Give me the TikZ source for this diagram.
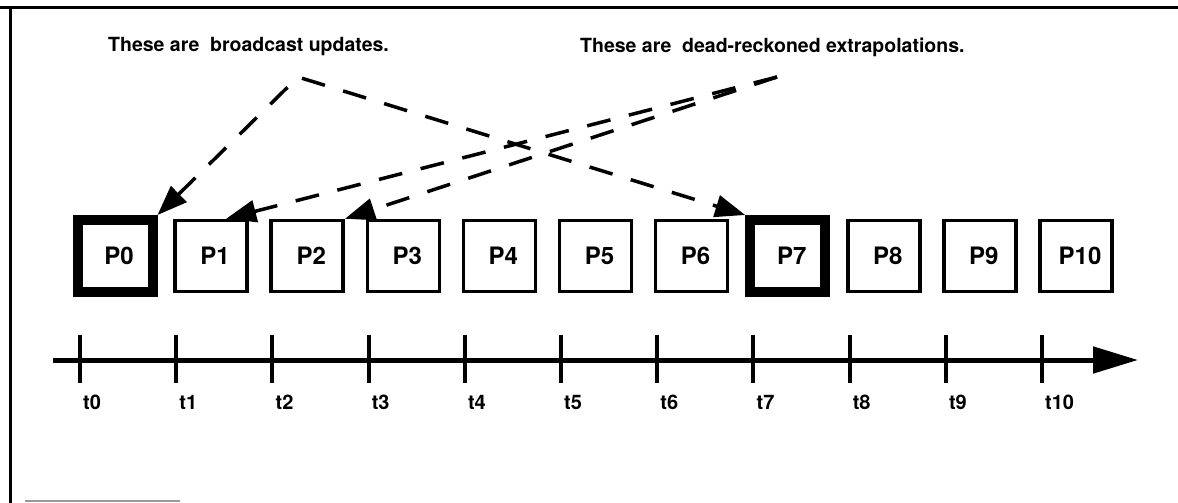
\documentclass[tikz,border=0pt]{standalone}
\usepackage{fontspec}
\setmainfont{TeX Gyre Heros}
\usetikzlibrary{positioning,arrows.meta,calc}

\begin{document}
\begin{tikzpicture}[x=1pt, y=-1pt,
  pbox/.style={draw, line width=3.5pt, minimum width=72pt, minimum height=71pt, inner sep=0pt, font=\fontsize{24}{26}\selectfont\bfseries},
  sent/.style={pbox, line width=10pt, minimum width=75pt, minimum height=72pt},
  note/.style={anchor=west, inner sep=0pt, font=\fontsize{19.5}{22}\selectfont\bfseries},
  tlab/.style={anchor=north west, inner sep=0pt, font=\fontsize{20}{22}\selectfont\bfseries},
  dashline/.style={line width=3.5pt, dash pattern=on 24pt off 19pt}]
\useasboundingbox (0,0) rectangle (1178,503);
\draw[line width=3pt] (0,8) -- (1178,8);
\draw[line width=3pt] (10,8) -- (10,503);
\draw[black!40, line width=1.5pt] (25,501) -- (180,501);
\node[note] (bc) at (108,47) {These are\ \ broadcast updates.};
\node[note] (dr) at (580,47) {These are\ \ dead-reckoned extrapolations.};
\foreach \i/\st in {0/sent,1/pbox,2/pbox,3/pbox,4/pbox,5/pbox,6/pbox,7/sent,8/pbox,9/pbox,10/pbox}
  \node[\st] (p\i) at (115+96.1*\i,256) {\hspace*{8pt}P\i};
\coordinate (ax0) at (53,360);
\coordinate (ax1) at (1138,360);
\draw[line width=5pt, -{Triangle[length=45pt,width=26pt]}] (ax0) -- (ax1);
\foreach \i in {0,...,10} {
  \coordinate (tk\i) at (80+96.2*\i,360);
  \draw[line width=4pt] ($(tk\i)+(0,-25)$) -- ($(tk\i)+(0,23)$);
  \node[tlab] (t\i) at ($(tk\i)+(3,35)$) {t\i};
}
\coordinate (bcx) at (298,77);
\coordinate (drx) at (777,77);
\draw[dashline, {Triangle[length=30pt,width=22pt]}-{Triangle[length=30pt,width=22pt]}] (p0.north east) -- (bcx) -- (p7.north west);
\draw[dashline, -{Triangle[length=30pt,width=22pt]}] (drx) -- ($(p1.north west)!0.7!(p1.north east)$);
\draw[dashline, -{Triangle[length=30pt,width=22pt]}] (drx) -- (p2.north east);
\end{tikzpicture}
\end{document}
